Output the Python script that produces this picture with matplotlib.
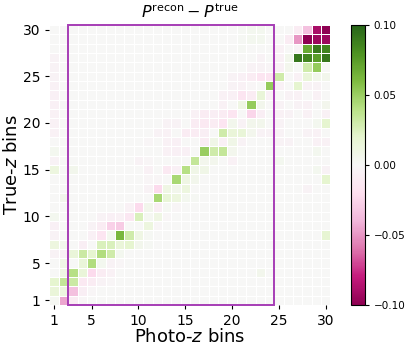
import matplotlib
matplotlib.use("Agg")
import matplotlib.pyplot as plt
import numpy as np

n_bins = 30
tick_bins = [1, 5, 10, 15, 20, 25, 30]

# (true-z bin, photo-z bin, P_recon - P_true); the rest is ~0
strong_cells = [
    (1, 2, -0.045), (1, 3, -0.010), (1, 1, 0.003),
    (2, 1, 0.015), (2, 2, 0.012), (2, 3, -0.035), (2, 4, -0.008),
    (3, 1, 0.020), (3, 2, 0.035), (3, 3, 0.032), (3, 4, -0.012), (3, 5, -0.010), (3, 6, -0.004),
    (4, 2, 0.010), (4, 3, 0.040), (4, 4, 0.015), (4, 5, -0.022), (4, 6, -0.010), (4, 7, -0.005),
    (4, 23, 0.006),
    (5, 2, 0.008), (5, 4, 0.015), (5, 5, 0.042), (5, 6, 0.004), (5, 7, -0.004),
    (6, 1, -0.004), (6, 2, -0.005), (6, 3, 0.015), (6, 4, 0.032), (6, 5, 0.020), (6, 6, 0.042),
    (6, 7, 0.030), (6, 8, 0.004),
    (7, 1, 0.012), (7, 2, 0.005), (7, 4, -0.008), (7, 6, 0.025), (7, 7, 0.025), (7, 8, 0.015),
    (7, 9, 0.020), (7, 10, 0.006),
    (8, 1, -0.004), (8, 5, -0.006), (8, 6, -0.015), (8, 7, 0.004), (8, 8, 0.062), (8, 9, 0.030),
    (8, 10, 0.010), (8, 30, 0.018),
    (9, 1, -0.006), (9, 5, -0.004), (9, 6, -0.010), (9, 7, -0.027), (9, 8, -0.030), (9, 11, 0.012),
    (10, 1, 0.004), (10, 6, -0.004), (10, 7, -0.006), (10, 8, -0.005), (10, 9, -0.014),
    (10, 10, 0.025), (10, 11, 0.003), (10, 12, 0.010),
    (11, 9, -0.005), (11, 10, -0.022), (11, 11, 0.006), (11, 12, -0.008),
    (12, 2, 0.006), (12, 12, 0.045), (12, 13, 0.016), (12, 14, 0.012), (12, 15, 0.004),
    (13, 11, -0.004), (13, 12, -0.022), (13, 13, 0.010), (13, 14, 0.006), (13, 15, 0.012),
    (13, 28, -0.004),
    (14, 14, 0.045), (14, 15, 0.010), (14, 16, 0.006), (14, 30, 0.020),
    (15, 1, 0.012), (15, 3, 0.006), (15, 11, -0.005), (15, 13, -0.012), (15, 14, -0.006),
    (15, 15, 0.040), (15, 16, 0.008), (15, 17, 0.008), (15, 29, 0.004), (15, 30, -0.004),
    (16, 1, -0.004), (16, 10, -0.004), (16, 16, 0.035), (16, 17, 0.005), (16, 18, 0.005),
    (16, 20, -0.005), (16, 25, 0.004),
    (17, 1, 0.004), (17, 13, -0.005), (17, 14, -0.006), (17, 15, -0.006), (17, 17, 0.050),
    (17, 18, 0.030), (17, 19, 0.035), (17, 20, 0.005), (17, 29, 0.004),
    (18, 13, -0.005), (18, 14, -0.006), (18, 17, -0.010), (18, 18, 0.008), (18, 19, -0.006),
    (18, 20, 0.008), (18, 21, -0.004), (18, 25, -0.004), (18, 26, -0.004), (18, 29, -0.005),
    (18, 30, -0.005),
    (19, 1, -0.005), (19, 12, -0.004), (19, 13, -0.005), (19, 15, -0.010), (19, 16, -0.010),
    (19, 17, -0.008), (19, 19, 0.030), (19, 20, 0.015), (19, 21, 0.016), (19, 22, 0.005),
    (19, 23, -0.004), (19, 24, -0.004), (19, 25, -0.004), (19, 28, -0.004), (19, 29, -0.005),
    (20, 1, -0.005), (20, 13, -0.004), (20, 14, -0.004), (20, 16, -0.010), (20, 17, -0.012),
    (20, 18, -0.010), (20, 19, -0.016), (20, 20, 0.006), (20, 21, -0.004), (20, 22, 0.006),
    (20, 23, 0.006), (20, 25, -0.004), (20, 29, 0.004), (20, 30, 0.020),
    (21, 1, -0.005), (21, 16, -0.005), (21, 17, -0.010), (21, 18, -0.008), (21, 19, -0.010),
    (21, 20, -0.015), (21, 22, -0.025), (21, 23, -0.008), (21, 25, -0.005), (21, 26, -0.004),
    (21, 28, -0.005), (21, 30, -0.005),
    (22, 1, -0.006), (22, 19, -0.005), (22, 21, 0.010), (22, 22, 0.052), (22, 23, 0.006),
    (22, 25, -0.004), (22, 27, -0.004), (22, 28, -0.005), (22, 30, 0.005),
    (23, 1, -0.006), (23, 19, -0.005), (23, 20, -0.006), (23, 21, -0.015), (23, 22, -0.010),
    (23, 23, 0.016), (23, 24, -0.005), (23, 26, -0.004), (23, 27, -0.005), (23, 29, -0.005),
    (24, 1, -0.005), (24, 20, -0.004), (24, 21, -0.005), (24, 24, 0.052), (24, 25, -0.005),
    (24, 27, 0.020), (24, 28, -0.004), (24, 29, -0.004),
    (25, 1, -0.004), (25, 20, -0.004), (25, 21, -0.006), (25, 22, -0.010), (25, 23, -0.016),
    (25, 24, -0.016), (25, 25, 0.030), (25, 27, -0.005), (25, 28, 0.015), (25, 29, 0.006),
    (25, 30, 0.006),
    (26, 1, -0.004), (26, 22, -0.004), (26, 23, -0.004), (26, 25, -0.006), (26, 26, 0.005),
    (26, 28, 0.030), (26, 29, 0.052),
    (27, 1, -0.004), (27, 23, -0.004), (27, 25, -0.006), (27, 26, 0.006), (27, 27, 0.092),
    (27, 28, 0.085), (27, 29, 0.075), (27, 30, 0.092),
    (28, 25, -0.005), (28, 27, -0.004), (28, 28, 0.068), (28, 29, 0.090), (28, 30, 0.086),
    (29, 22, 0.004), (29, 23, 0.004), (29, 26, -0.010), (29, 27, -0.050), (29, 28, -0.100),
    (29, 29, -0.095), (29, 30, -0.095),
    (30, 22, 0.004), (30, 23, 0.004), (30, 27, -0.010), (30, 28, -0.035), (30, 29, -0.090),
    (30, 30, -0.100),
]

# faint off-diagonal noise that makes most cells slightly tinted
faint_cells = [
    (1, 4, -0.002), (2, 5, -0.002), (3, 7, -0.002), (5, 8, -0.002), (7, 11, 0.002),
    (8, 11, 0.002), (9, 12, -0.002), (10, 13, -0.002), (11, 13, 0.002), (11, 14, -0.002),
    (12, 16, 0.002), (14, 11, -0.002), (14, 12, -0.002), (16, 11, -0.002), (18, 11, -0.002),
    (24, 22, -0.002), (26, 24, -0.003), (28, 21, 0.002), (29, 21, 0.002), (30, 21, 0.002),
]

diff = np.zeros((n_bins, n_bins))
for t, p, v in strong_cells + faint_cells:
    diff[t - 1, p - 1] = v

fig = plt.figure(figsize=(4.09, 3.51), dpi=100)
ax = fig.add_axes([0.121, 0.131, 0.687, 0.798])
cax = fig.add_axes([0.858, 0.131, 0.034, 0.798])

edges = np.arange(n_bins + 1)
mesh = ax.pcolormesh(edges, edges, diff, cmap="PiYG", vmin=-0.1, vmax=0.1,
                     edgecolors="white", linewidth=0.7)
ax.set_xlim(0, n_bins)
ax.set_ylim(0, n_bins)

# photo-z cut used in the analysis
ax.add_patch(plt.Rectangle((2, 0), 22, 30, fill=False, edgecolor="#a63db5",
                           linewidth=1.4, clip_on=False, zorder=5))

for s in ax.spines.values():
    s.set_visible(False)
ticks = [b - 0.5 for b in tick_bins]
ax.set_xticks(ticks)
ax.set_xticklabels([str(b) for b in tick_bins], fontsize=10)
ax.set_yticks(ticks)
ax.set_yticklabels([str(b) for b in tick_bins], fontsize=10)
ax.tick_params(length=3, width=0.8)
ax.set_xlabel("Photo-$z$ bins", fontsize=13, labelpad=0)
ax.set_ylabel("True-$z$ bins", fontsize=13, labelpad=1)
ax.set_title(r"$P^{\rm recon} - P^{\rm true}$", fontsize=11.5, pad=5)

cb = fig.colorbar(mesh, cax=cax, ticks=[-0.10, -0.05, 0.0, 0.05, 0.10])
cb.ax.set_yticklabels(["\u22120.10", "\u22120.05", "0.00", "0.05", "0.10"])
cb.ax.tick_params(labelsize=7.5, length=3, width=0.8)
cb.outline.set_linewidth(0.8)

fig.savefig("out.png", dpi=100)
